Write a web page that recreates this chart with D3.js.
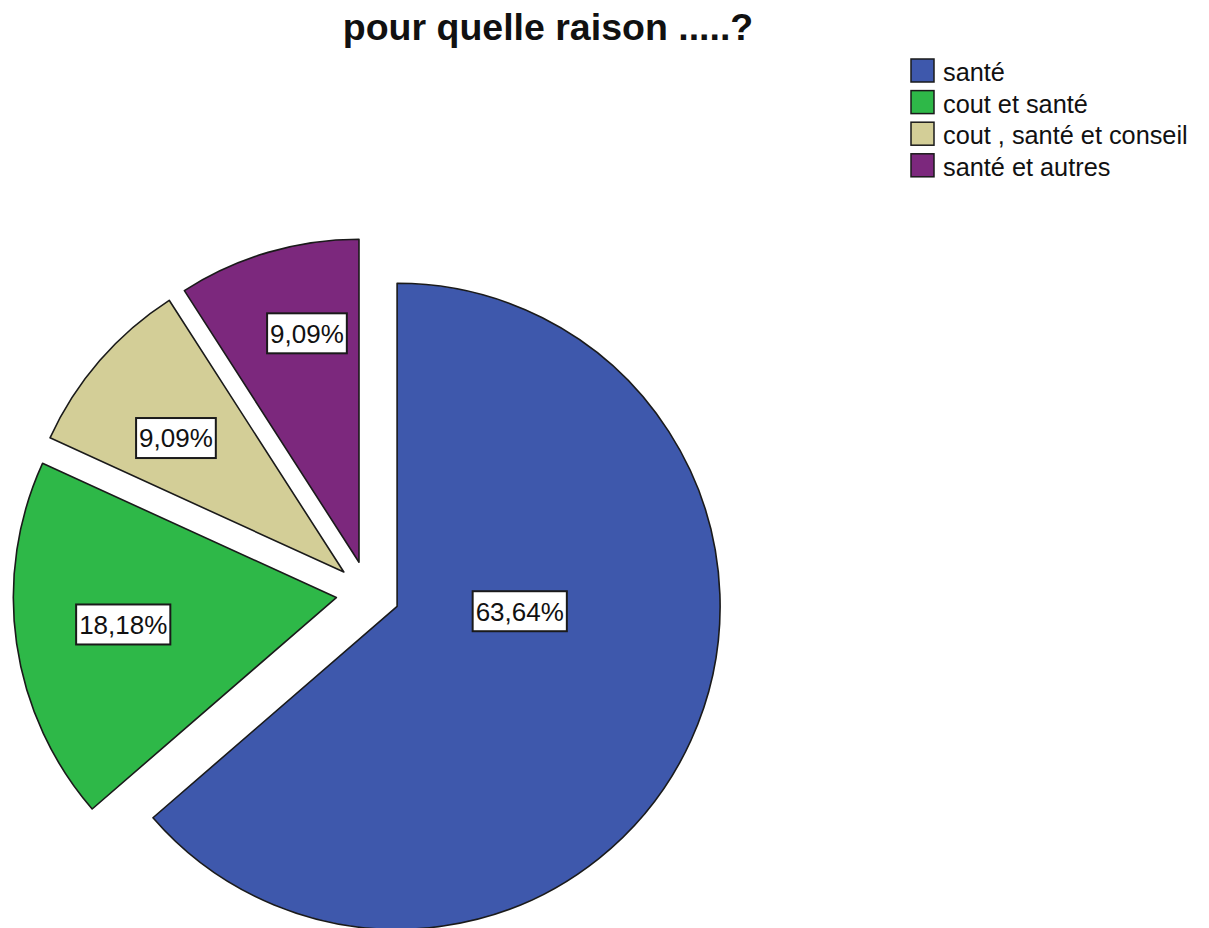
<!DOCTYPE html>
<html>
<head>
<meta charset="utf-8">
<script src="https://cdn.jsdelivr.net/npm/d3@7"></script>
<style>
  html, body { margin: 0; padding: 0; background: #ffffff; }
  svg { display: block; }
</style>
</head>
<body>
<script>
// ---- data ----
const categories = ["santé", "cout et santé", "cout , santé et conseil", "santé et autres"];
const percents = [63.64, 18.18, 9.09, 9.09];
const valueLabels = ["63,64%", "18,18%", "9,09%", "9,09%"];
const titleText = "pour quelle raison .....?";

// ---- layout / style ----
const W = 1209, H = 928;
const colors = ["#3e58ac", "#2eb848", "#d3ce97", "#7c287d"];
const center = { x: 368, y: 593 };
const radius = 323;
const explode = 32;
// label anchor per slice: angle (deg, clockwise from top) and distance (fraction of radius) from the slice apex
const labelPlacement = [
  { angle: 92.3, dist: 0.38 },
  { angle: 262.8, dist: 0.665 },
  { angle: 308.6, dist: 0.665 },
  { angle: 347.2, dist: 0.727 }
];

const svg = d3.select("body").append("svg")
  .attr("width", W).attr("height", H);

// title
svg.append("text")
  .attr("x", 548).attr("y", 40)
  .attr("text-anchor", "middle")
  .attr("font-family", "Liberation Sans, Arial, sans-serif")
  .attr("font-weight", "bold")
  .attr("font-size", 37.5)
  .attr("fill", "#111")
  .text(titleText);

// pie
const pie = d3.pie().sort(null).value(d => d)(percents);
const arc = d3.arc().innerRadius(0).outerRadius(radius);

const g = svg.append("g").attr("transform", `translate(${center.x},${center.y})`);

const slices = g.selectAll("g.slice").data(pie).join("g")
  .attr("class", "slice")
  .attr("transform", d => {
    const mid = (d.startAngle + d.endAngle) / 2;
    return `translate(${Math.sin(mid) * explode},${-Math.cos(mid) * explode})`;
  });

slices.append("path")
  .attr("d", arc)
  .attr("fill", (d, i) => colors[i])
  .attr("stroke", "#1a1a1a")
  .attr("stroke-width", 1.6)
  .attr("stroke-linejoin", "round");

// value labels in white boxes
slices.each(function (d, i) {
  const p = labelPlacement[i];
  const a = p.angle * Math.PI / 180;
  const lx = Math.sin(a) * p.dist * radius;
  const ly = -Math.cos(a) * p.dist * radius;
  const lg = d3.select(this).append("g").attr("transform", `translate(${lx},${ly})`);
  const t = lg.append("text")
    .attr("text-anchor", "middle")
    .attr("dy", "0.36em")
    .attr("font-family", "Liberation Sans, Arial, sans-serif")
    .attr("font-size", 26)
    .attr("fill", "#111")
    .text(valueLabels[i]);
  const bb = t.node().getBBox();
  lg.insert("rect", "text")
    .attr("x", bb.x - 3).attr("y", -20)
    .attr("width", bb.width + 6).attr("height", 40)
    .attr("fill", "#ffffff")
    .attr("stroke", "#1a1a1a")
    .attr("stroke-width", 2);
});

// legend
const legend = svg.append("g").attr("transform", "translate(910,58)");
const rows = legend.selectAll("g").data(categories).join("g")
  .attr("transform", (d, i) => `translate(0,${i * 31.6})`);
rows.append("rect")
  .attr("x", 1).attr("y", 1)
  .attr("width", 23).attr("height", 23)
  .attr("fill", (d, i) => colors[i])
  .attr("stroke", "#1a1a1a")
  .attr("stroke-width", 1.5);
rows.append("text")
  .attr("x", 33).attr("y", 23)
  .attr("font-family", "Liberation Sans, Arial, sans-serif")
  .attr("font-size", 25.3)
  .attr("fill", "#111")
  .text(d => d);
</script>
</body>
</html>
